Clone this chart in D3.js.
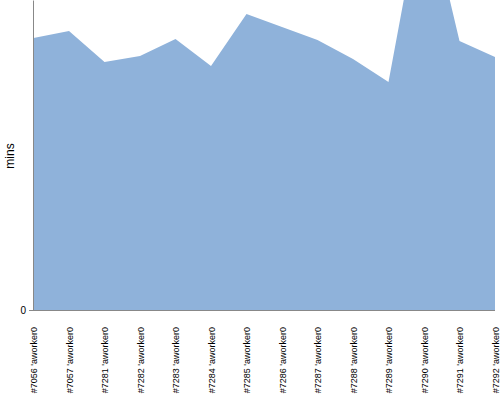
<!DOCTYPE html>
<html>
<head>
<meta charset="utf-8">
<script src="https://cdn.jsdelivr.net/npm/d3@7/dist/d3.min.js"></script>
<style>
  html, body { margin: 0; padding: 0; background: #fff; }
  svg { display: block; }
</style>
</head>
<body>
<div id="chart"></div>
<script>
const categories = ["#7056 'aworker0", "#7057 'aworker0", "#7281 'aworker0", "#7282 'aworker0",
  "#7283 'aworker0", "#7284 'aworker0", "#7285 'aworker0", "#7286 'aworker0", "#7287 'aworker0",
  "#7288 'aworker0", "#7289 'aworker0", "#7290 'aworker0", "#7291 'aworker0", "#7292 'aworker0"];
const minsValues = [54.4, 55.8, 49.6, 50.8, 54.2, 48.8, 59.2, 56.6, 54.0, 50.2, 45.6, 83.8, 53.8, 50.6];
const yTickValues = [0];
const yMax = 62;
const yLabel = "mins";

const W = 500, H = 400;
const margin = {left: 33, top: 0, right: 5, bottom: 90};
const innerW = W - margin.left - margin.right;
const innerH = H - margin.top - margin.bottom;

const svg = d3.select("#chart").append("svg").attr("width", W).attr("height", H);
const g = svg.append("g").attr("transform", `translate(${margin.left},${margin.top})`);

const x = d3.scalePoint().domain(categories).range([0.5, innerW]);
const y = d3.scaleLinear().domain([0, yMax]).range([innerH, 0]);

svg.append("defs").append("clipPath").attr("id", "clip")
  .append("rect").attr("x", 0).attr("y", 0).attr("width", innerW + 1).attr("height", innerH);

const area = d3.area()
  .x((d, i) => x(categories[i]))
  .y0(y(0))
  .y1(d => y(d));

g.append("path")
  .datum(minsValues)
  .attr("clip-path", "url(#clip)")
  .attr("fill", "#8fb2da")
  .attr("d", area);

// y axis
const yAxis = g.append("g").call(d3.axisLeft(y).tickValues(yTickValues).tickSize(4).tickSizeOuter(0));
yAxis.select(".domain").attr("stroke", "#888");
yAxis.selectAll(".tick line").attr("stroke", "#888");
yAxis.selectAll(".tick text").attr("font-family", "Liberation Sans, Arial, sans-serif").attr("font-size", 10).attr("fill", "#000");

// x axis line
g.append("line").attr("x1", 0).attr("x2", innerW).attr("y1", innerH + 0.5).attr("y2", innerH + 0.5)
  .attr("stroke", "#888");

// x labels
const xAxis = g.append("g").attr("transform", `translate(0,${innerH})`)
  .call(d3.axisBottom(x).tickSize(0));
xAxis.select(".domain").remove();
xAxis.selectAll(".tick text")
  .attr("font-family", "Liberation Sans, Arial, sans-serif")
  .attr("font-size", 9)
  .attr("fill", "#000")
  .attr("text-anchor", "end")
  .attr("transform", "translate(0,17) rotate(-90)")
  .attr("x", 0).attr("y", 0).attr("dy", "0.35em");

// y label
svg.append("text")
  .attr("transform", `translate(14,${margin.top + 156}) rotate(-90)`)
  .attr("text-anchor", "middle")
  .attr("font-family", "Liberation Sans, Arial, sans-serif")
  .attr("font-size", 12)
  .attr("fill", "#000")
  .text(yLabel);
</script>
</body>
</html>
